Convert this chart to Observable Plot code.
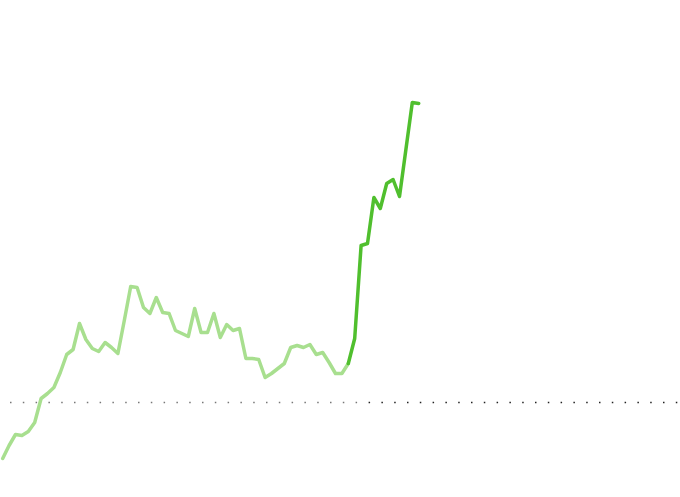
<!DOCTYPE html>
<html>
<head>
<meta charset="utf-8">
<script src="https://cdn.jsdelivr.net/npm/d3@7"></script>
<script src="https://cdn.jsdelivr.net/npm/@observablehq/plot@0.6"></script>
<style>
  html, body { margin: 0; padding: 0; background: #fff; }
  #chart svg { display: block; }
</style>
</head>
<body>
<div id="chart"></div>
<script>
// Period index (0..65) and value relative to the dotted reference level (0)
const periods = d3.range(66);
const values = [
  -56, -43, -32, -33, -29, -20, 4, 9, 15, 30,
  48, 53, 79, 63, 54, 51, 60, 55, 49, 82,
  116, 115, 95, 89, 105, 90, 89, 72, 69, 66,
  94, 70, 70, 89, 65, 78, 72, 74, 44, 44,
  43, 25, 29, 34, 39, 55, 57, 55, 58, 48,
  50, 40, 29, 29, 39, 64, 157, 159, 205, 194,
  219, 223, 206, 253, 300, 299
];
const splitIndex = 54; // where the line switches to the darker colour
const referenceValue = 0;
const refLightSpan = [1.22, 56.2];
const refDarkSpan = [57.25, 106];

const rows = periods.map((p, i) => ({period: p, value: values[i]}));
const lightRows = rows.filter(d => d.period <= splitIndex);
const darkRows = rows.filter(d => d.period >= splitIndex);

const chart = Plot.plot({
  width: 680,
  height: 497,
  margin: 0,
  x: {domain: [0, 65], range: [2.2, 418.2], axis: null},
  y: {domain: [-95, 402], range: [497, 0], axis: null},
  marks: [
    Plot.ruleY([referenceValue], {x1: refLightSpan[0], x2: refLightSpan[1], stroke: "#777", strokeWidth: 1.5, strokeDasharray: "1.5,11.3"}),
    Plot.ruleY([referenceValue], {x1: refDarkSpan[0], x2: refDarkSpan[1], stroke: "#222", strokeWidth: 1.5, strokeDasharray: "1.5,11.3"}),
    Plot.line(lightRows, {x: "period", y: "value", stroke: "#a8df8f", strokeWidth: 3.5}),
    Plot.line(darkRows, {x: "period", y: "value", stroke: "#50bf2e", strokeWidth: 3.5})
  ]
});
document.getElementById("chart").appendChild(chart);
</script>
</body>
</html>
